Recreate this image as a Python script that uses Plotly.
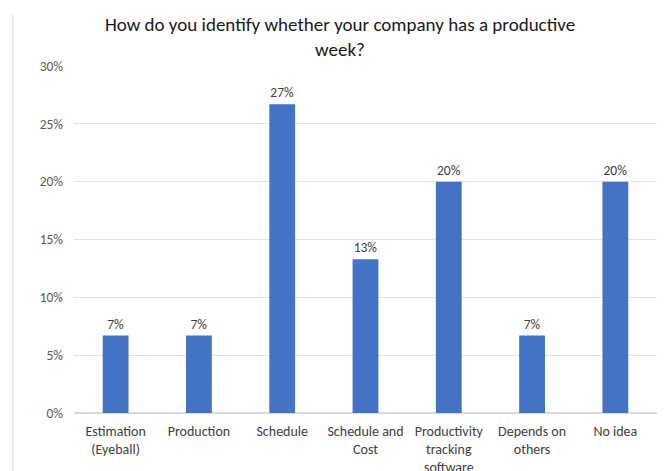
import plotly.graph_objects as go

categories = ["Estimation<br>(Eyeball)", "Production", "Schedule", "Schedule and<br>Cost",
              "Productivity<br>tracking<br>software", "Depends on<br>others", "No idea"]
shares = [0.067, 0.067, 0.267, 0.133, 0.20, 0.067, 0.20]
y_ticks = [0, 0.05, 0.10, 0.15, 0.20, 0.25, 0.30]

font_family = "Carlito, Lato, 'Open Sans', sans-serif"

# page body adds an 8px offset, so the figure is laid out 8px up/left
W, H = 667, 471
L, R, T, B = 66, 18, 58, 66
pw, ph = W - L - R, H - T - B

fig = go.Figure(go.Bar(
    x=categories,
    y=shares,
    marker=dict(color="#4472C4", line=dict(color="#4472C4", width=0)),
    width=0.31,
    texttemplate="%{y:.0%}",
    textposition="outside",
    textfont=dict(family=font_family, size=13.5, color="#404040"),
    cliponaxis=False,
))

fig.update_layout(
    width=W,
    height=H,
    margin=dict(l=L, r=R, t=T, b=B),
    paper_bgcolor="white",
    plot_bgcolor="white",
    showlegend=False,
    title=dict(
        text="How do you identify whether your company has a productive<br>week?",
        x=332 / W, xanchor="center", xref="container",
        y=1 - 23 / H, yanchor="middle", yref="container",
        font=dict(family=font_family, size=19, color="#1a1a1a"),
    ),
    font=dict(family=font_family),
)

fig.update_yaxes(
    range=[0, 0.30],
    tickvals=y_ticks,
    tickformat=".0%",
    showgrid=True,
    gridcolor="#e3e3e3",
    gridwidth=1,
    zeroline=True,
    zerolinecolor="#d9d9d9",
    showline=False,
    ticks="",
    automargin=False,
    ticklabelstandoff=10,
    tickfont=dict(family=font_family, size=13.5, color="#595959"),
)

fig.update_xaxes(
    showgrid=False,
    showline=False,
    ticks="",
    tickangle=0,
    automargin=False,
    ticklabelstandoff=8,
    tickfont=dict(family=font_family, size=14, color="#404040"),
)

# chart border lines
for xpx in (5, 657):
    fig.add_shape(type="line", xref="paper", yref="paper",
                  x0=(xpx - L) / pw, x1=(xpx - L) / pw,
                  y0=-B / ph, y1=(H - B - 7) / ph,
                  line=dict(color="#d0d0d0", width=1))

fig.write_html("out.html")
